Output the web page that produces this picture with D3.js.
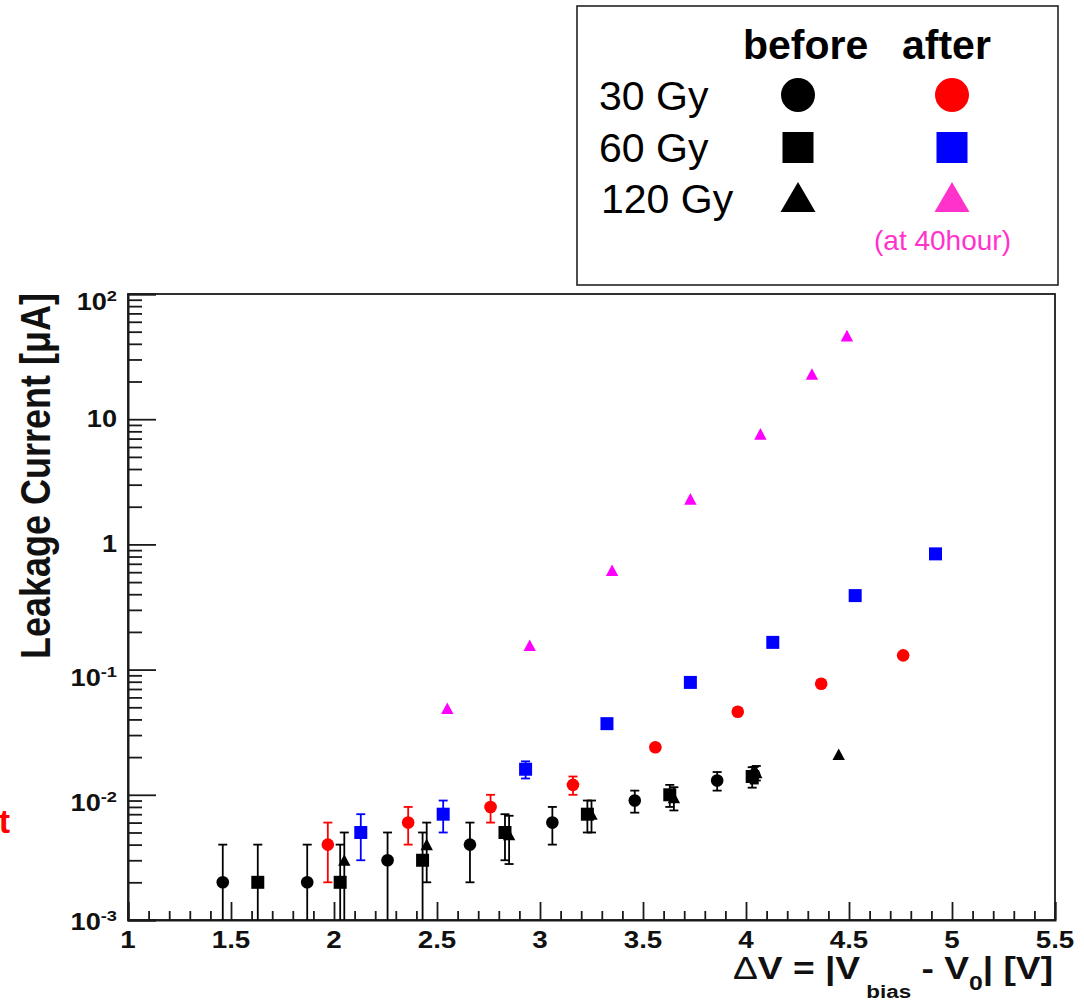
<!DOCTYPE html>
<html><head><meta charset="utf-8">
<script src="https://cdn.jsdelivr.net/npm/d3@7"></script>
<style>
body{margin:0;background:#fff}
svg{display:block}
text{font-family:"Liberation Sans",Arial,Helvetica,sans-serif}
</style>
</head><body>
<svg id="c" width="1084" height="1002"></svg>
<script>
// ---- tick labels ----
const xTicks = [1, 1.5, 2, 2.5, 3, 3.5, 4, 4.5, 5, 5.5];
const xTickLabels = ["1", "1.5", "2", "2.5", "3", "3.5", "4", "4.5", "5", "5.5"];
const yTicks = [1e-3, 1e-2, 1e-1, 1, 10, 100];
const yTickBase = ["10", "10", "10", "1", "10", "10"];
const yTickExp = ["-3", "-2", "-1", "", "", "2"];

// ---- data: 30 Gy before (black circles) ----
const gy30BeforeX   = [1.46, 1.87, 2.26, 2.66, 3.06, 3.46, 3.86, 4.04];
const gy30BeforeY   = [0.002, 0.002, 0.003, 0.004, 0.006, 0.009, 0.013, 0.0145];
const gy30BeforeErr = [0.002, 0.002, 0.002, 0.002, 0.002, 0.0018, 0.0022, 0.0022];
// 60 Gy before (black squares)
const gy60BeforeX   = [1.63, 2.03, 2.43, 2.83, 3.23, 3.63, 4.03];
const gy60BeforeY   = [0.002, 0.002, 0.003, 0.005, 0.007, 0.010, 0.014];
const gy60BeforeErr = [0.002, 0.002, 0.002, 0.002, 0.002, 0.002, 0.0026];
// 120 Gy before (black triangles)
const gy120BeforeX   = [2.05, 2.45, 2.85, 3.25, 3.65, 4.05, 4.45];
const gy120BeforeY   = [0.003, 0.004, 0.0048, 0.007, 0.0095, 0.015, 0.021];
const gy120BeforeErr = [0.002, 0.002, 0.002, 0.002, 0.002, 0.002, 0];
// 30 Gy after (red circles)
const gy30AfterX   = [1.97, 2.36, 2.76, 3.16, 3.56, 3.96, 4.365, 4.763];
const gy30AfterY   = [0.004, 0.006, 0.008, 0.012, 0.024, 0.046, 0.077, 0.13];
const gy30AfterErr = [0.002, 0.002, 0.002, 0.002, 0, 0, 0, 0];
// 60 Gy after (blue squares)
const gy60AfterX   = [2.13, 2.53, 2.93, 3.325, 3.73, 4.13, 4.53, 4.92];
const gy60AfterY   = [0.005, 0.007, 0.016, 0.037, 0.079, 0.165, 0.39, 0.84];
const gy60AfterErr = [0.002, 0.002, 0.0025, 0, 0, 0, 0, 0];
// 120 Gy after, at 40 hours (magenta triangles)
const gy120AfterX   = [2.55, 2.95, 3.35, 3.73, 4.07, 4.32, 4.49];
const gy120AfterY   = [0.049, 0.156, 0.62, 2.3, 7.6, 22.9, 46.3];
const gy120AfterErr = [0, 0, 0, 0, 0, 0, 0];

const legendRows = ["30 Gy", "60 Gy", "120 Gy"];
const legendCols = ["before", "after"];

// ---- layout ----
const SX = 1.18; // horizontal stretch of the original ROOT canvas text
const L = 128, R = 1055, T = 294, B = 920;
const svg = d3.select("#c");
svg.append("rect").attr("width", 1084).attr("height", 1002).attr("fill", "#fff");

const x = d3.scaleLinear().domain([1, 5.5]).range([L, R]);
const y = d3.scaleLog().domain([1e-3, 1e2]).range([B, T]);

const series = [
  {xs: gy30BeforeX, ys: gy30BeforeY, es: gy30BeforeErr, color: "#000", shape: "circle"},
  {xs: gy60BeforeX, ys: gy60BeforeY, es: gy60BeforeErr, color: "#000", shape: "square"},
  {xs: gy120BeforeX, ys: gy120BeforeY, es: gy120BeforeErr, color: "#000", shape: "triangle"},
  {xs: gy30AfterX, ys: gy30AfterY, es: gy30AfterErr, color: "#ff0000", shape: "circle"},
  {xs: gy60AfterX, ys: gy60AfterY, es: gy60AfterErr, color: "#0000ff", shape: "square"},
  {xs: gy120AfterX, ys: gy120AfterY, es: gy120AfterErr, color: "#ff00ff", shape: "triangle"}
];

// ---- frame ----
const axisColor = "#1a1a1a";
svg.append("rect").attr("x", L).attr("y", T).attr("width", R - L).attr("height", B - T)
  .attr("fill", "none").attr("stroke", axisColor).attr("stroke-width", 1.8);

// ---- x axis ticks ----
const xMinor = d3.range(10, 56).map(d => d / 10).filter(v => Math.abs(v * 2 - Math.round(v * 2)) > 1e-6);
const gx = svg.append("g");
gx.append("g").attr("transform", `translate(0,${B})`)
  .call(d3.axisBottom(x).tickValues(xTicks).tickSize(-18).tickFormat(""))
  .call(g => { g.select(".domain").attr("stroke", axisColor).attr("stroke-width", 2); g.selectAll("line").attr("stroke", axisColor).attr("stroke-width", 1.8); });
gx.append("g").attr("transform", `translate(0,${B})`)
  .call(d3.axisBottom(x).tickValues(xMinor).tickSize(-9).tickFormat(""))
  .call(g => { g.select(".domain").remove(); g.selectAll("line").attr("stroke", axisColor).attr("stroke-width", 1.8); });

gx.selectAll("text.xl").data(xTicks).join("text").attr("class", "xl")
  .attr("transform", d => `translate(${x(d)},948) scale(${SX},1)`)
  .attr("text-anchor", "middle").attr("font-weight", "bold").attr("font-size", 23.5)
  .attr("fill", "#111")
  .text((d, i) => xTickLabels[i]);

// ---- y axis ticks ----
const yMinor = [];
for (let e = -3; e < 2; e++) for (let m = 2; m <= 9; m++) yMinor.push(m * Math.pow(10, e));
const gyAx = svg.append("g");
gyAx.append("g").attr("transform", `translate(${L},0)`)
  .call(d3.axisLeft(y).tickValues(yTicks).tickSize(-28).tickFormat(""))
  .call(g => { g.select(".domain").attr("stroke", axisColor).attr("stroke-width", 2); g.selectAll("line").attr("stroke", axisColor).attr("stroke-width", 1.8); });
gyAx.append("g").attr("transform", `translate(${L},0)`)
  .call(d3.axisLeft(y).tickValues(yMinor).tickSize(-14).tickFormat(""))
  .call(g => { g.select(".domain").remove(); g.selectAll("line").attr("stroke", axisColor).attr("stroke-width", 1.8); });

const yl = gyAx.selectAll("text.yl").data(yTicks).join("text").attr("class", "yl")
  .attr("transform", (d, i) => {
    const off = yTickExp[i] === "" ? 8 : (i === 0 ? 10 : 16);
    return `translate(117,${y(d) + off}) scale(${SX},1)`;
  })
  .attr("text-anchor", "end").attr("font-weight", "bold").attr("font-size", 23).attr("fill", "#111");
yl.append("tspan").text((d, i) => yTickBase[i]);
yl.append("tspan").attr("font-size", 15.5).attr("dy", (d, i) => yTickExp[i] ? -9 : 0)
  .text((d, i) => yTickExp[i]);

// ---- axis titles ----
svg.append("text")
  .attr("transform", `translate(50,293) scale(${SX},1) rotate(-90)`)
  .attr("text-anchor", "end").attr("font-weight", "bold").attr("font-size", 36).attr("fill", "#111")
  .text("Leakage Current [μA]");

const xt = svg.append("text")
  .attr("transform", `translate(1053,979) scale(${SX},1)`)
  .attr("text-anchor", "end").attr("font-weight", "bold").attr("font-size", 31.5).attr("fill", "#111");
xt.append("tspan").attr("font-weight", "normal").text("Δ");
xt.append("tspan").text("V = |V");
xt.append("tspan").attr("font-size", 19).attr("dy", 19).text(" bias");
xt.append("tspan").attr("dy", -19).text(" - V");
xt.append("tspan").attr("font-size", 21).attr("dy", 11).text("0");
xt.append("tspan").attr("dy", -11).text("| [V]");

// ---- data ----
svg.append("clipPath").attr("id", "plotclip").append("rect")
  .attr("x", L).attr("y", T - 10).attr("width", R - L).attr("height", B - T + 10);
const plot = svg.append("g").attr("clip-path", "url(#plotclip)");

const CAP = 9;
function markerPath(shape) {
  if (shape === "circle") return d3.symbol(d3.symbolCircle, Math.PI * 6.3 * 6.3)();
  if (shape === "square") return "M-6.5,-6.5H6.5V6.5H-6.5Z";
  return "M0,-6L6.2,5.6H-6.2Z";
}

series.forEach(s => {
  const pts = s.xs.map((v, i) => ({x: v, y: s.ys[i], e: s.es[i]}));
  const g = plot.append("g");
  const withErr = pts.filter(p => p.e > 0);
  g.selectAll("line.eb").data(withErr).join("line").attr("class", "eb")
    .attr("x1", p => x(p.x)).attr("x2", p => x(p.x))
    .attr("y1", p => y(p.y + p.e))
    .attr("y2", p => (p.y - p.e) > 1e-3 * 0.999 ? y(Math.max(p.y - p.e, 1e-3)) : B + 5)
    .attr("stroke", s.color).attr("stroke-width", 1.8);
  g.selectAll("line.ct").data(withErr).join("line").attr("class", "ct")
    .attr("x1", p => x(p.x) - CAP / 2).attr("x2", p => x(p.x) + CAP / 2)
    .attr("y1", p => y(p.y + p.e)).attr("y2", p => y(p.y + p.e))
    .attr("stroke", s.color).attr("stroke-width", 1.8);
  g.selectAll("line.cb").data(withErr.filter(p => p.y - p.e > 1e-3 * 1.001)).join("line").attr("class", "cb")
    .attr("x1", p => x(p.x) - CAP / 2).attr("x2", p => x(p.x) + CAP / 2)
    .attr("y1", p => y(p.y - p.e)).attr("y2", p => y(p.y - p.e))
    .attr("stroke", s.color).attr("stroke-width", 1.8);
  g.selectAll("path.mk").data(pts).join("path").attr("class", "mk")
    .attr("transform", p => `translate(${x(p.x)},${y(p.y)})`)
    .attr("d", markerPath(s.shape)).attr("fill", s.color);
});

// ---- legend ----
const lg = svg.append("g");
lg.append("rect").attr("x", 577).attr("y", 6).attr("width", 481).attr("height", 279)
  .attr("fill", "#fff").attr("stroke", "#222").attr("stroke-width", 1.6);
const colX = [798, 952];
const colTextX = [743, 902];
lg.selectAll("text.col").data(legendCols).join("text").attr("class", "col")
  .attr("x", (d, i) => colTextX[i]).attr("y", 59)
  .attr("font-weight", "bold").attr("font-size", 41).attr("fill", "#000").text(d => d);
const rowY = [110, 162, 213];
const rowMarkY = [95, 147.5, 197];
lg.selectAll("text.row").data(legendRows).join("text").attr("class", "row")
  .attr("x", (d, i) => i === 2 ? 601 : 599).attr("y", (d, i) => rowY[i])
  .attr("font-size", 41).attr("fill", "#000").text(d => d);
const legMarks = [
  (g, c) => g.append("circle").attr("r", 17).attr("fill", c),
  (g, c) => g.append("rect").attr("x", -15.5).attr("y", -15.5).attr("width", 31).attr("height", 31).attr("fill", c),
  (g, c) => g.append("path").attr("d", "M0,-15L17.5,15H-17.5Z").attr("fill", c)
];
const legColors = [["#000", "#ff0000"], ["#000", "#0000ff"], ["#000", "#ff33cc"]];
legendRows.forEach((r, i) => {
  colX.forEach((cx, j) => {
    const g = lg.append("g").attr("transform", `translate(${cx},${rowMarkY[i]})`);
    legMarks[i](g, legColors[i][j]);
  });
});
lg.append("text").attr("x", 874).attr("y", 250).attr("font-size", 28).attr("fill", "#ff33cc")
  .text("(at 40hour)");

// ---- stray clipped annotation at left edge ----
svg.append("text").attr("x", 10).attr("y", 833).attr("text-anchor", "end")
  .attr("font-weight", "bold").attr("font-size", 34).attr("fill", "#ff0000").text("t");
</script>
</body></html>
